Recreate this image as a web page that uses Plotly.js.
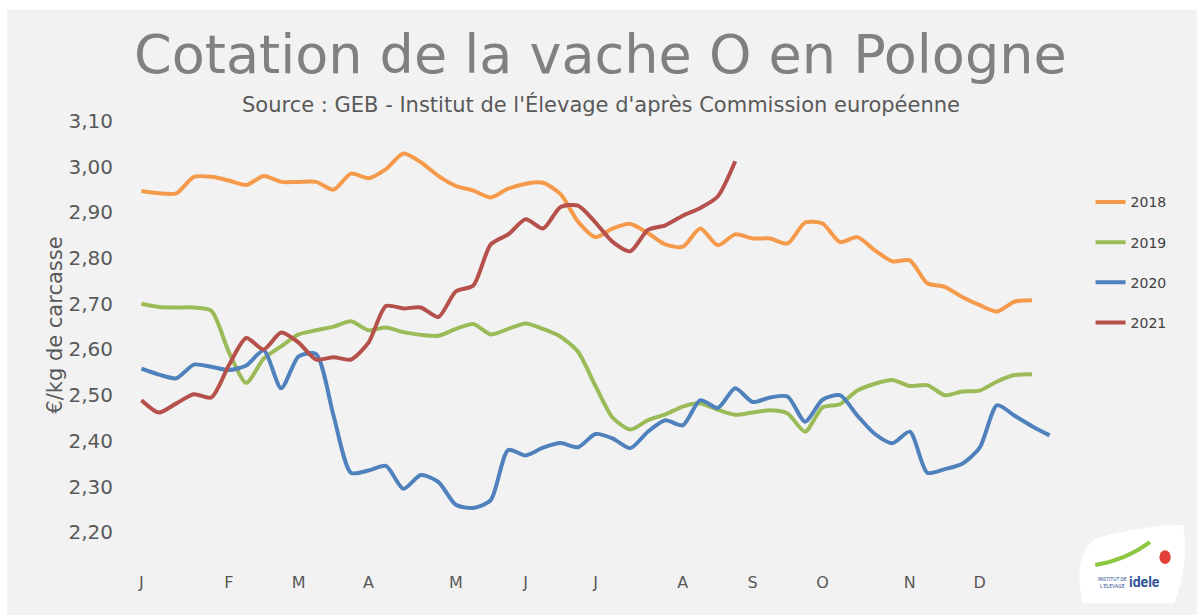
<!DOCTYPE html>
<html>
<head>
<meta charset="utf-8">
<script src="https://cdn.plot.ly/plotly-3.0.1.min.js"></script>
<style>
  html, body { margin: 0; padding: 0; background: #ffffff; }
  #panel { position: absolute; left: 7px; top: 10px; width: 1190px; height: 605px; background: #f2f2f2; }
  #chart { position: absolute; left: 0; top: 0; width: 1203px; height: 615px; }
</style>
</head>
<body>
<div id="panel"></div>
<div id="chart"></div>
<script>
// Weekly quotations (€/kg carcass), week numbers 1..53
const weeks = Array.from({length: 53}, (_, i) => i + 1);

const monthTickWeeks = [1, 6, 10, 14, 19, 23, 27, 32, 36, 40, 45, 49];
const monthLabels = ["J", "F", "M", "A", "M", "J", "J", "A", "S", "O", "N", "D"];

const yTickVals = [2.2, 2.3, 2.4, 2.5, 2.6, 2.7, 2.8, 2.9, 3.0, 3.1];
const yTickText = ["2,20", "2,30", "2,40", "2,50", "2,60", "2,70", "2,80", "2,90", "3,00", "3,10"];

const y2018 = [2.947, 2.942, 2.942, 2.978, 2.978, 2.970, 2.960, 2.980, 2.967, 2.967,
               2.967, 2.950, 2.985, 2.975, 2.995, 3.029, 3.010, 2.980, 2.958, 2.948,
               2.933, 2.952, 2.963, 2.965, 2.940, 2.880, 2.846, 2.865, 2.875, 2.855,
               2.830, 2.825, 2.865, 2.828, 2.852, 2.843, 2.843, 2.832, 2.878, 2.876,
               2.835, 2.846, 2.817, 2.793, 2.795, 2.745, 2.737, 2.715, 2.697, 2.683,
               2.705, 2.708];

const y2019 = [2.700, 2.693, 2.692, 2.692, 2.685, 2.595, 2.527, 2.580, 2.607, 2.633,
               2.642, 2.650, 2.662, 2.642, 2.648, 2.638, 2.632, 2.630, 2.645, 2.656,
               2.633, 2.645, 2.657, 2.645, 2.628, 2.595, 2.520, 2.450, 2.425, 2.445,
               2.458, 2.475, 2.482, 2.468, 2.457, 2.462, 2.467, 2.460, 2.420, 2.473,
               2.480, 2.510, 2.525, 2.533, 2.520, 2.522, 2.500, 2.508, 2.510, 2.530,
               2.544, 2.546];

const y2020 = [2.558, 2.545, 2.537, 2.567, 2.562, 2.555, 2.565, 2.598, 2.515, 2.585,
               2.590, 2.455, 2.330, 2.335, 2.345, 2.295, 2.325, 2.310, 2.260, 2.253,
               2.270, 2.380, 2.368, 2.385, 2.395, 2.386, 2.415, 2.405, 2.384, 2.420,
               2.445, 2.434, 2.489, 2.472, 2.515, 2.485, 2.495, 2.497, 2.442, 2.490,
               2.500, 2.455, 2.415, 2.395, 2.420, 2.330, 2.338, 2.350, 2.385, 2.478,
               2.455, 2.432, 2.412];

const y2021 = [2.489, 2.462, 2.482, 2.502, 2.495, 2.565, 2.625, 2.600, 2.637, 2.615,
               2.578, 2.583, 2.578, 2.615, 2.695, 2.690, 2.692, 2.671, 2.727, 2.740,
               2.830, 2.852, 2.885, 2.865, 2.912, 2.915, 2.878, 2.835, 2.815, 2.862,
               2.872, 2.893, 2.910, 2.935, 3.012];

const seriesNames = ["2018", "2019", "2020", "2021"];
const seriesValues = [y2018, y2019, y2020, y2021];
const seriesColors = ["#F59A4A", "#9BBB59", "#4F81BD", "#B5504B"];

const traces = seriesValues.map((vals, i) => ({
  type: "scatter",
  mode: "lines",
  name: seriesNames[i],
  legendgroup: seriesNames[i],
  x: weeks.slice(0, vals.length),
  y: vals,
  line: {color: seriesColors[i], width: 4, shape: "spline", smoothing: 0.7}
}));

const baseFont = "'DejaVu Sans', Lato, sans-serif";

const layout = {
  width: 1203,
  height: 615,
  paper_bgcolor: "rgba(0,0,0,0)",
  plot_bgcolor: "rgba(0,0,0,0)",
  margin: {l: 124, r: 136, t: 112, b: 44},
  font: {family: baseFont, color: "#595959"},
  showlegend: true,
  legend: {
    x: 1.025, xanchor: "left", y: 0.838, yanchor: "top",
    font: {size: 14, color: "#404040", family: baseFont},
    tracegroupgap: 19,
    bgcolor: "rgba(0,0,0,0)"
  },
  xaxis: {
    range: [0, 54],
    tickmode: "array",
    tickvals: monthTickWeeks,
    ticktext: monthLabels,
    showgrid: false, zeroline: false, showline: false,
    ticks: "",
    tickfont: {size: 16, color: "#595959", family: baseFont},
    fixedrange: true
  },
  yaxis: {
    range: [2.115, 3.12],
    tickmode: "array",
    tickvals: yTickVals,
    ticktext: yTickText,
    showgrid: false, zeroline: false, showline: false,
    ticks: "",
    ticklabelstandoff: 10,
    tickfont: {size: 20, color: "#595959", family: baseFont},
    fixedrange: true
  },
  annotations: [
    {xref: "paper", yref: "paper", x: 0.5, y: 1, xanchor: "center", yanchor: "middle",
     yshift: 58, xshift: 5, showarrow: false,
     text: "Cotation de la vache O en Pologne",
     font: {size: 54, color: "#808080", family: baseFont}},
    {xref: "paper", yref: "paper", x: 0.5, y: 1, xanchor: "center", yanchor: "middle",
     yshift: 8, xshift: 5, showarrow: false,
     text: "Source : GEB - Institut de l'Élevage d'après Commission européenne",
     font: {size: 21, color: "#595959", family: baseFont}},
    {xref: "paper", yref: "paper", x: -0.074, y: 0.5, xanchor: "center", yanchor: "middle",
     yshift: 16, showarrow: false, textangle: -90,
     text: "€/kg de carcasse",
     font: {size: 21, color: "#595959", family: baseFont}},
    {xref: "paper", yref: "paper", x: 1.082, y: -0.024, xanchor: "center", yanchor: "middle",
     showarrow: false, text: "<b>idele</b>",
     font: {size: 14, color: "#2f5597", family: "Roboto, sans-serif"}},
    {xref: "paper", yref: "paper", x: 1.048, y: -0.024, xanchor: "center", yanchor: "middle",
     showarrow: false, text: "INSTITUT DE<br>L'ÉLEVAGE",
     font: {size: 5, color: "#2f5597", family: "Roboto, sans-serif"}}
  ],
  shapes: [
    {type: "path", xref: "paper", yref: "paper",
     path: "M 1.017 -0.07 Q 1.005 0.03 1.03 0.07 Q 1.08 0.10 1.123 0.10 Q 1.13 0.02 1.114 -0.07 Z",
     fillcolor: "#ffffff", line: {width: 0}, layer: "below"},
    {type: "path", xref: "paper", yref: "paper",
     path: "M 1.030 0.013 Q 1.062 0.024 1.088 0.063",
     line: {color: "#8dc63f", width: 4}},
    {type: "circle", xref: "paper", yref: "paper",
     x0: 1.098, x1: 1.110, y0: 0.015, y1: 0.045,
     fillcolor: "#e2413b", line: {width: 0}}
  ]
};

Plotly.newPlot("chart", traces, layout, {displayModeBar: false, staticPlot: true});
</script>
</body>
</html>
